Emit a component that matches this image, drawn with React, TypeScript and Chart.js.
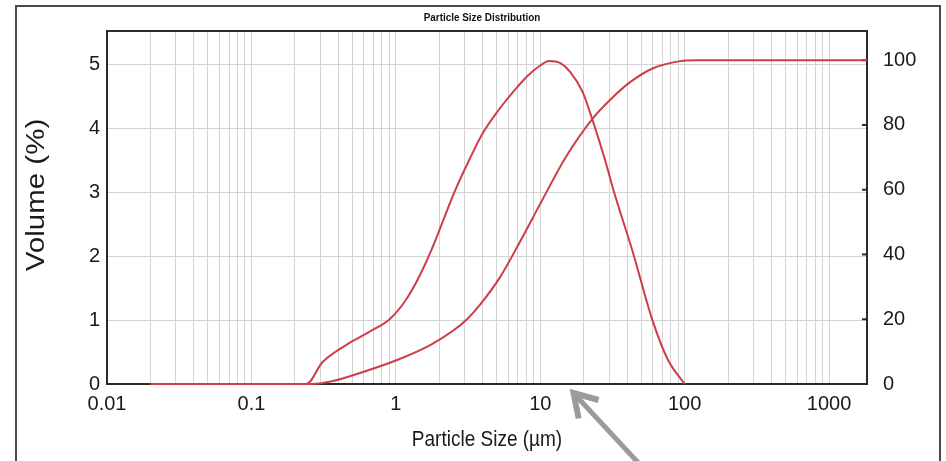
import React, { useEffect, useRef } from 'react';
import { Chart, registerables } from 'chart.js';

Chart.register(...registerables);

// ---- data ----
const densitySizes = [0.02, 0.24, 0.31, 0.46, 0.66, 0.91, 1.16, 1.45, 1.78, 2.55, 3.27, 4.05, 5.18, 6.51, 8.19, 10.0, 11.5, 13.7, 16.1, 19.6, 22.9, 28.1, 32.1, 43.3, 59.8, 76.5, 100];
const densityValues = [0, 0, 0.34, 0.62, 0.82, 1.02, 1.3, 1.68, 2.12, 3.01, 3.54, 3.95, 4.3, 4.58, 4.83, 4.99, 5.06, 5.03, 4.89, 4.58, 4.15, 3.51, 3.04, 2.1, 1.0, 0.38, 0];

const cumSizes = [0.02, 0.263, 0.367, 0.593, 1.02, 1.73, 2.5, 3.11, 3.83, 5.27, 7.25, 10.1, 14.9, 22.9, 31.9, 41.9, 60.4, 92.9, 120, 1830];
const cumValues = [0, 0, 0.9, 3.7, 7.4, 12, 16.5, 20, 24.5, 33, 44, 56, 69.8, 81.8, 88.6, 93.2, 97.5, 99.7, 100, 100];

const xDecades = [0.01, 0.1, 1, 10, 100, 1000];
const xTickLabels = ['0.01', '0.1', '1', '10', '100', '1000'];
const leftTicks = [0, 1, 2, 3, 4, 5];
const rightTicks = [0, 20, 40, 60, 80, 100];

const xMin = 0.01;
const xMax = 1830;
const leftMax = 5.53;
const rightMax = 109;
const arrowTarget = 17;

const TITLE = 'Particle Size Distribution';
const X_TITLE = 'Particle Size (µm)';
const Y_TITLE = 'Volume (%)';

const FONT = "'Liberation Sans', Arial, sans-serif";
const RED = 'rgb(204, 62, 72)';

const xTickValues: number[] = [];
xDecades.forEach((d) => {
  for (let m = 1; m <= 9; m++) {
    const v = Number((m * d).toPrecision(6));
    if (v <= xMax) xTickValues.push(v);
  }
});

export default function App() {
  const ref = useRef<HTMLCanvasElement>(null);

  useEffect(() => {
    const canvas = ref.current;
    if (!canvas) return;

    const decor = {
      id: 'decor',
      beforeDraw(chart: any) {
        const ctx = chart.ctx;
        ctx.save();
        ctx.fillStyle = '#ffffff';
        ctx.fillRect(0, 0, chart.width, chart.height);
        // outer frame
        ctx.strokeStyle = '#4a4a4a';
        ctx.lineWidth = 2;
        ctx.strokeRect(16, 6, 924, 480);
        // title
        ctx.fillStyle = '#111';
        ctx.font = `bold 11px ${FONT}`;
        ctx.textAlign = 'center';
        ctx.textBaseline = 'middle';
        ctx.translate(482, 18);
        ctx.scale(0.9, 1.05);
        ctx.fillText(TITLE, 0, 0);
        ctx.restore();
      },
      beforeDatasetsDraw(chart: any) {
        const ctx = chart.ctx;
        const a = chart.chartArea;
        ctx.save();
        ctx.strokeStyle = '#2b2b2b';
        ctx.lineWidth = 2;
        ctx.strokeRect(a.left, a.top, a.right - a.left, a.bottom - a.top);
        // inward tick marks of the right axis
        const y1 = chart.scales.y1;
        rightTicks.forEach((t) => {
          const py = y1.getPixelForValue(t);
          ctx.beginPath();
          ctx.moveTo(a.right - 5, py);
          ctx.lineTo(a.right, py);
          ctx.stroke();
        });
        ctx.restore();
      },
      afterDraw(chart: any) {
        const ctx = chart.ctx;
        const a = chart.chartArea;
        ctx.save();
        ctx.fillStyle = '#1a1a1a';
        ctx.textAlign = 'center';
        ctx.textBaseline = 'middle';
        // y title
        ctx.save();
        ctx.translate(37, 195);
        ctx.rotate(-Math.PI / 2);
        ctx.scale(1.18, 1);
        ctx.font = `25px ${FONT}`;
        ctx.fillText(Y_TITLE, 0, 0);
        ctx.restore();
        // x title
        ctx.save();
        ctx.translate((a.left + a.right) / 2, 440);
        ctx.scale(0.95, 1.12);
        ctx.font = `20px ${FONT}`;
        ctx.fillText(X_TITLE, 0, 0);
        ctx.restore();
        // arrow
        const tipX = chart.scales.x.getPixelForValue(arrowTarget);
        const tipY = a.bottom + 9;
        const ang = Math.atan2(69, 64);
        const len = 100;
        ctx.strokeStyle = '#9b9b9b';
        ctx.lineWidth = 5;
        ctx.beginPath();
        ctx.moveTo(tipX + 3 * Math.cos(ang), tipY + 3 * Math.sin(ang));
        ctx.lineTo(tipX + len * Math.cos(ang), tipY + len * Math.sin(ang));
        ctx.stroke();
        ctx.lineWidth = 6;
        ctx.lineJoin = 'miter';
        ctx.beginPath();
        const arm = 26;
        ctx.moveTo(tipX + arm * Math.cos(ang - 0.55), tipY + arm * Math.sin(ang - 0.55));
        ctx.lineTo(tipX, tipY);
        ctx.lineTo(tipX + arm * Math.cos(ang + 0.55), tipY + arm * Math.sin(ang + 0.55));
        ctx.stroke();
        ctx.restore();
      },
    };

    const chart = new Chart(canvas, {
      type: 'scatter',
      data: {
        datasets: [
          {
            label: 'Volume',
            data: densitySizes.map((x, i) => ({ x, y: densityValues[i] })),
            yAxisID: 'y',
            showLine: true,
            borderColor: RED,
            borderWidth: 2,
            pointRadius: 0,
            cubicInterpolationMode: 'monotone',
            clip: 4,
          } as any,
          {
            label: 'Cumulative',
            data: cumSizes.map((x, i) => ({ x, y: cumValues[i] })),
            yAxisID: 'y1',
            showLine: true,
            borderColor: RED,
            borderWidth: 2,
            pointRadius: 0,
            cubicInterpolationMode: 'monotone',
            clip: 4,
          } as any,
        ],
      },
      options: {
        animation: false,
        responsive: false,
        maintainAspectRatio: false,
        layout: { padding: { top: 31, left: 0, right: 0, bottom: 0 } },
        plugins: {
          legend: { display: false },
          title: { display: false },
          tooltip: { enabled: false },
        },
        scales: {
          x: {
            type: 'logarithmic',
            min: xMin,
            max: xMax,
            afterBuildTicks: (scale: any) => {
              scale.ticks = xTickValues.map((v) => ({ value: v }));
            },
            afterFit: (scale: any) => {
              scale.height = 77;
            },
            grid: { color: '#d4d4d4', lineWidth: 1, drawTicks: false },
            border: { display: false },
            ticks: {
              autoSkip: false,
              maxRotation: 0,
              minRotation: 0,
              padding: 8,
              color: '#1a1a1a',
              font: { family: FONT, size: 20 },
              callback: (value: any) => {
                const v = Number(value);
                const i = xDecades.findIndex((d) => Math.abs(d - v) / d < 1e-6);
                return i >= 0 ? xTickLabels[i] : '';
              },
            },
          },
          y: {
            type: 'linear',
            position: 'left',
            min: 0,
            max: leftMax,
            afterBuildTicks: (scale: any) => {
              scale.ticks = leftTicks.map((v) => ({ value: v }));
            },
            afterFit: (scale: any) => {
              scale.width = 107;
            },
            grid: { color: '#d4d4d4', lineWidth: 1, drawTicks: false },
            border: { display: false },
            ticks: {
              padding: 7,
              color: '#1a1a1a',
              font: { family: FONT, size: 20 },
            },
          },
          y1: {
            type: 'linear',
            position: 'right',
            min: 0,
            max: rightMax,
            afterBuildTicks: (scale: any) => {
              scale.ticks = rightTicks.map((v) => ({ value: v }));
            },
            afterFit: (scale: any) => {
              scale.width = 79;
            },
            grid: { drawOnChartArea: false, drawTicks: false },
            border: { display: false },
            ticks: {
              padding: 16,
              color: '#1a1a1a',
              font: { family: FONT, size: 20 },
            },
          },
        },
      },
      plugins: [decor],
    } as any);

    return () => chart.destroy();
  }, []);

  return (
    <div style={{ position: 'fixed', left: 0, top: 0, width: 946, height: 461, background: '#fff' }}>
      <canvas ref={ref} width={946} height={461} style={{ display: 'block', width: 946, height: 461 }} />
    </div>
  );
}
